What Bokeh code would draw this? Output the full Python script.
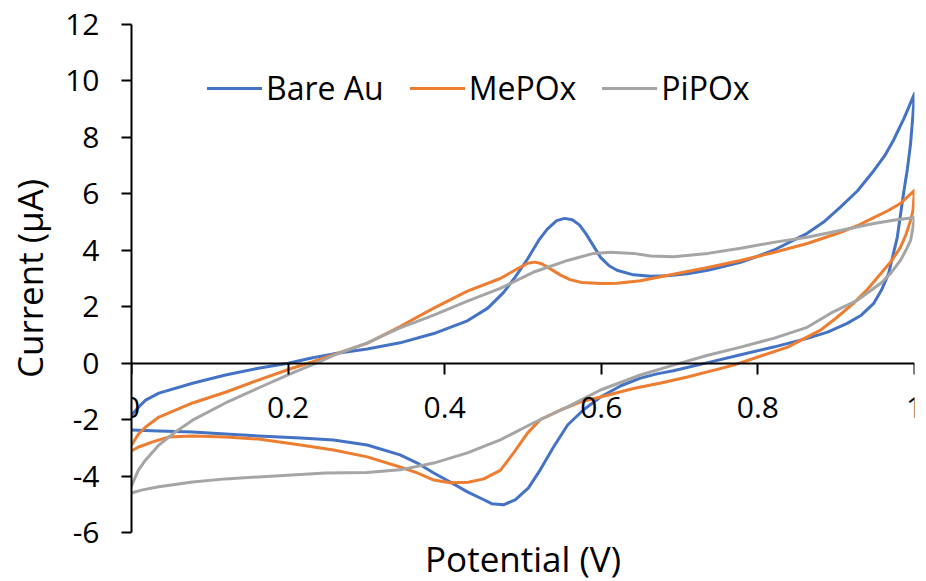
from bokeh.plotting import figure
from bokeh.models import (FixedTicker, CustomJSTickFormatter, Legend, LegendItem, Title)
from bokeh.embed import file_html
from bokeh.resources import INLINE

# ---------------- data ----------------
bare_x = [0.000, 0.009, 0.018, 0.035, 0.078, 0.120, 0.162, 0.200, 0.230, 0.258, 0.301, 0.343,
          0.386, 0.429, 0.455, 0.475, 0.490, 0.506, 0.520, 0.531, 0.543, 0.553, 0.563, 0.572,
          0.580, 0.589, 0.599, 0.610, 0.620, 0.641, 0.663, 0.684, 0.710, 0.736, 0.778, 0.820,
          0.863, 0.884, 0.905, 0.927, 0.948, 0.962, 0.973, 0.987, 1.000,
          0.998, 0.995, 0.991, 0.986, 0.978, 0.967, 0.958, 0.948, 0.932, 0.914, 0.889, 0.863,
          0.820, 0.778, 0.736, 0.692, 0.671, 0.650, 0.625, 0.599, 0.577, 0.557, 0.539, 0.522,
          0.507, 0.490, 0.475, 0.460, 0.450, 0.429, 0.407, 0.386, 0.365, 0.343, 0.301, 0.258,
          0.216, 0.162, 0.120, 0.078, 0.035, 0.000]
bare_y = [-1.84, -1.56, -1.31, -1.06, -0.71, -0.42, -0.18, 0.00, 0.18, 0.33, 0.50, 0.72,
          1.05, 1.50, 1.95, 2.50, 3.05, 3.70, 4.35, 4.75, 5.05, 5.13, 5.08, 4.90,
          4.60, 4.20, 3.75, 3.45, 3.29, 3.13, 3.08, 3.10, 3.17, 3.29, 3.57, 4.00,
          4.60, 5.00, 5.52, 6.10, 6.82, 7.35, 7.89, 8.70, 9.55,
          8.80, 7.78, 6.90, 6.01, 4.46, 3.18, 2.60, 2.12, 1.70, 1.41, 1.10, 0.88,
          0.57, 0.30, 0.02, -0.27, -0.38, -0.53, -0.80, -1.20, -1.66, -2.19, -2.97, -3.78,
          -4.42, -4.84, -5.02, -4.98, -4.84, -4.56, -4.21, -3.89, -3.54, -3.25, -2.90, -2.72,
          -2.65, -2.58, -2.51, -2.44, -2.40, -2.37]

mepox_x = [0.000, 0.009, 0.018, 0.035, 0.078, 0.120, 0.162, 0.205, 0.231, 0.258, 0.301, 0.343,
           0.386, 0.429, 0.471, 0.490, 0.506, 0.515, 0.524, 0.535, 0.548, 0.560, 0.575, 0.600,
           0.620, 0.650, 0.692, 0.736, 0.778, 0.820, 0.863, 0.905, 0.927, 0.948, 0.966, 0.982,
           1.000,
           0.998, 0.995, 0.989, 0.982, 0.970, 0.957, 0.940, 0.922, 0.900, 0.880, 0.838, 0.800,
           0.769, 0.710, 0.676, 0.641, 0.620, 0.599, 0.573, 0.548, 0.522, 0.506, 0.488, 0.471,
           0.450, 0.430, 0.407, 0.386, 0.365, 0.343, 0.301, 0.258, 0.216, 0.162, 0.120, 0.078,
           0.047, 0.027, 0.009, 0.000]
mepox_y = [-2.90, -2.51, -2.26, -1.91, -1.41, -1.03, -0.60, -0.18, 0.04, 0.30, 0.70, 1.30,
           1.95, 2.55, 3.00, 3.30, 3.54, 3.58, 3.52, 3.34, 3.12, 2.96, 2.86, 2.82,
           2.83, 2.92, 3.15, 3.39, 3.64, 3.92, 4.24, 4.63, 4.87, 5.16, 5.40, 5.66,
           6.12,
           5.40, 5.06, 4.55, 4.10, 3.60, 3.18, 2.62, 2.12, 1.60, 1.17, 0.57, 0.22,
           -0.07, -0.49, -0.70, -0.90, -1.05, -1.20, -1.38, -1.66, -2.00, -2.47, -3.18, -3.80,
           -4.10, -4.22, -4.24, -4.14, -3.89, -3.68, -3.32, -3.08, -2.90, -2.69, -2.62, -2.58,
           -2.62, -2.79, -2.97, -3.11]

pipox_x = [0.000, 0.009, 0.018, 0.035, 0.056, 0.078, 0.120, 0.162, 0.205, 0.239, 0.258, 0.301,
           0.343, 0.386, 0.429, 0.471, 0.513, 0.557, 0.590, 0.612, 0.641, 0.663, 0.692, 0.736,
           0.778, 0.820, 0.863, 0.905, 0.948, 0.975, 1.000,
           0.998, 0.995, 0.989, 0.982, 0.970, 0.957, 0.927, 0.893, 0.863, 0.820, 0.778, 0.736,
           0.692, 0.650, 0.599, 0.557, 0.513, 0.471, 0.429, 0.386, 0.343, 0.301, 0.248, 0.205,
           0.162, 0.120, 0.078, 0.035, 0.014, 0.000]
pipox_y = [-4.35, -3.78, -3.43, -2.90, -2.44, -2.02, -1.41, -0.88, -0.35, 0.04, 0.28, 0.72,
           1.25, 1.70, 2.20, 2.65, 3.22, 3.64, 3.89, 3.93, 3.89, 3.80, 3.77, 3.89,
           4.07, 4.28, 4.46, 4.70, 4.95, 5.07, 5.16,
           4.80, 4.35, 4.00, 3.64, 3.20, 2.83, 2.23, 1.77, 1.27, 0.88, 0.57, 0.28,
           -0.07, -0.42, -0.95, -1.55, -2.12, -2.72, -3.18, -3.54, -3.78, -3.87, -3.89, -3.96,
           -4.03, -4.10, -4.21, -4.38, -4.49, -4.60]

series_names = ["Bare Au", "MePOx", "PiPOx"]
series_colors = ["#4472C4", "#ED7D31", "#A5A5A5"]
x_ticks = [0, 0.2, 0.4, 0.6, 0.8, 1]
y_ticks = [-6, -4, -2, 0, 2, 4, 6, 8, 10, 12]
x_title = "Potential (V)"
y_title = "Current (μA)"

FONT = "Open Sans"

p = figure(width=926, height=581, x_range=(0, 1), y_range=(-6, 12),
           output_backend="svg", toolbar_location=None,
           min_border_left=131, min_border_right=12, min_border_top=24, min_border_bottom=48)
p.outline_line_color = None
p.xgrid.visible = False
p.ygrid.visible = False
p.background_fill_color = "white"
p.border_fill_color = "white"

renderers = []
for xs, ys, c in zip([bare_x, mepox_x, pipox_x], [bare_y, mepox_y, pipox_y], series_colors):
    r = p.line(xs, ys, line_color=c, line_width=3, line_join="round", line_cap="round")
    renderers.append(r)

# x axis crossing at y = 0
xa = p.xaxis[0]
xa.fixed_location = 0
xa.ticker = FixedTicker(ticks=x_ticks)
xa.formatter = CustomJSTickFormatter(code="return String(tick)")
xa.major_tick_out = 11
xa.major_tick_in = 0
xa.minor_tick_line_color = None
xa.axis_line_width = 2
xa.major_tick_line_width = 2
xa.axis_line_color = "black"
xa.major_tick_line_color = "black"
xa.major_label_text_font = FONT
xa.major_label_text_font_size = "30px"
xa.major_label_text_color = "black"
xa.major_label_standoff = 23

ya = p.yaxis[0]
ya.ticker = FixedTicker(ticks=y_ticks)
ya.formatter = CustomJSTickFormatter(code="return String(tick)")
ya.major_tick_out = 10
ya.major_tick_in = 0
ya.minor_tick_line_color = None
ya.axis_line_width = 2
ya.major_tick_line_width = 2
ya.axis_line_color = "black"
ya.major_tick_line_color = "black"
ya.major_label_text_font = FONT
ya.major_label_text_font_size = "30px"
ya.major_label_text_color = "black"
ya.major_label_standoff = 22
ya.axis_label = y_title
ya.axis_label_text_font = FONT
ya.axis_label_text_font_size = "35px"
ya.axis_label_text_font_style = "normal"
ya.axis_label_text_color = "black"
ya.axis_label_standoff = 9

xt = Title(text=x_title, align="center", text_font=FONT, text_font_size="35px",
           text_font_style="normal", text_color="black", standoff=0, offset=0)
p.add_layout(xt, "below")

legend = Legend(items=[LegendItem(label=n, renderers=[r]) for n, r in zip(series_names, renderers)],
                orientation="horizontal", location=(76, 423),
                background_fill_alpha=0, border_line_alpha=0,
                label_text_font=FONT, label_text_font_size="32px", label_text_color="black",
                glyph_width=55, glyph_height=20, label_standoff=4, spacing=26,
                padding=0, margin=0)
p.add_layout(legend, "center")

open("out.html", "w").write(file_html(p, INLINE))
